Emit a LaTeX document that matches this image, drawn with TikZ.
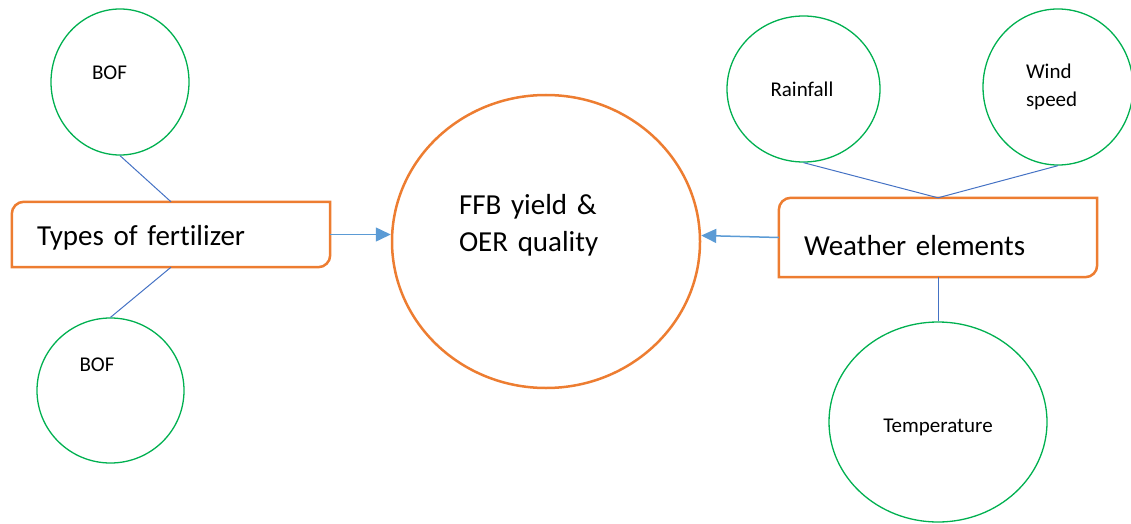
\documentclass[tikz,border=0pt]{standalone}
\usepackage{fontspec}
\setmainfont{Carlito}[RawFeature={-liga;-clig;-calt;-dlig}]
\usetikzlibrary{shapes.geometric,arrows.meta,calc}
\definecolor{ringgreen}{HTML}{00B050}
\definecolor{accentorange}{HTML}{ED7D31}
\definecolor{linkblue}{HTML}{4472C4}
\definecolor{arrowblue}{HTML}{5B9BD5}

\begin{document}
\begin{tikzpicture}[x=1pt,y=-1pt,
  bubble/.style={ellipse, draw=ringgreen, line width=1.3pt, inner sep=0pt,
    align=left, font=\fontsize{21}{28}\selectfont},
  hub/.style={ellipse, draw=accentorange, line width=2.5pt, inner sep=0pt,
    align=left, font=\fontsize{29}{37}\selectfont},
  group/.style={rectangle, inner xsep=25pt, inner ysep=0pt, align=left,
    minimum width=318pt, text width=268pt, text depth=7pt,
    font=\fontsize{29}{35}\selectfont},
  outline/.style={draw=accentorange, line width=2.5pt},
  link/.style={draw=linkblue, line width=1pt},
  feed/.style={draw=arrowblue, line width=1.5pt,
    -{Triangle[length=15pt,width=14pt]}}]

\useasboundingbox (0,0) rectangle (1131,524);

% central outcome
\node[hub, minimum width=308pt, minimum height=293pt,
      text width=174pt, text height=22pt, text depth=76pt]
  (ffb) at (546,241.5) {FFB yield \&\\OER quality};

% fertilizer branch
\node[group, minimum height=65pt, text height=28pt] (fert) at (171,234.5)
  {Types of fert\kern0pt ilizer};
\node[bubble, minimum width=138pt, minimum height=146pt,
      text width=56pt, text height=15pt, text depth=20pt]
  (bofa) at (120,82) {BOF};
\node[bubble, minimum width=147pt, minimum height=145pt,
      text width=62pt, text height=15pt, text depth=53pt]
  (bofb) at (110.5,390.5) {BOF};

% weather branch
\node[group, minimum height=79pt, text height=42pt] (weather) at (938,237.5)
  {Weather elements};
\node[bubble, minimum width=153pt, minimum height=146pt,
      text width=66pt, text height=20pt, text depth=6pt]
  (rain) at (803.5,89) {Rainfall};
\node[bubble, minimum width=150pt, minimum height=156pt,
      text width=64pt, text height=15pt, text depth=31pt]
  (wind) at (1058,87) {Wind\\speed};
\node[bubble, minimum width=218pt, minimum height=200pt,
      text height=26pt, text depth=6pt]
  (temp) at (938,422) {Temperature};

% box outlines: rounded top-left and bottom-right corners
\foreach \b in {fert,weather}{
  \draw[outline] (\b.south west) -- ($(\b.north west)+(0,12)$)
    arc[start angle=180,end angle=270,radius=12] -- (\b.north east)
    -- ($(\b.south east)+(0,-12)$)
    arc[start angle=0,end angle=90,radius=12] -- cycle;
}

% connectors
\draw[link] (bofa.south) -- (fert.north);
\draw[link] (fert.south) -- (bofb.north);
\draw[link] (rain.south) -- (weather.north);
\draw[link] (wind.south) -- (weather.north);
\draw[link] (weather.south) -- (temp.north);

\draw[feed] (fert.east) -- (fert.east -| ffb.west);
\draw[feed] (weather.west) -- ([yshift=6pt]ffb.east);
\end{tikzpicture}
\end{document}
